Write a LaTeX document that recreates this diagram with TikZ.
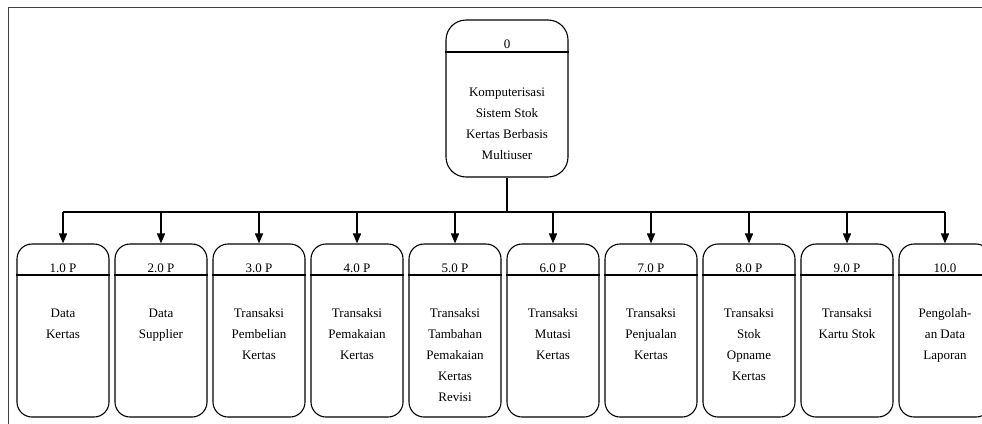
\documentclass[tikz,border=0pt]{standalone}
\usepackage{fontspec}
\setmainfont{Liberation Serif}
\usetikzlibrary{arrows.meta}
\begin{document}
\begin{tikzpicture}[x=1pt,y=-1pt,
  procbox/.style={draw, rounded corners=15pt, minimum width=92pt, minimum height=173pt, inner sep=0pt, line width=1.1pt},
  rootbox/.style={draw, rounded corners=20pt, minimum width=122pt, minimum height=157pt, inner sep=0pt, line width=1.1pt},
  divider/.style={line width=1.1pt},
  lbl/.style={font=\fontsize{13}{21}\selectfont, align=center, inner sep=0pt, anchor=base},
  link/.style={line width=1.3pt},
  arr/.style={line width=1.6pt, -{Triangle[length=10pt,width=8pt]}},
  frame/.style={line width=1.6pt, draw=black!75}]
\useasboundingbox (0,0) rectangle (982,423);
\clip (0,0) rectangle (982,423);

% page frame
\draw[frame] (8.5,430) -- (8.5,7.5) -- (990,7.5);

% context process (text node anchored at the baseline of its last line)
\node[rootbox] (root) at (507,98.5) {};
\draw[divider] (root.west |- 0,52) -- (root.east |- 0,52);
\node[lbl] (rootid) at (507,48.5) {0};
\node[lbl] (roottxt) at (507,159) {Komputerisasi\\Sistem Stok\\Kertas Berbasis\\Multiuser};

% level-1 processes: index / number of text lines / id / text
\foreach \i/\n/\id/\txt in {
  1/2/1.0 P/{Data\\Kertas},
  2/2/2.0 P/{Data\\Supplier},
  3/3/3.0 P/{Transaksi\\Pembelian\\Kertas},
  4/3/4.0 P/{Transaksi\\Pemakaian\\Kertas},
  5/5/5.0 P/{Transaksi\\Tambahan\\Pemakaian\\Kertas\\Revisi},
  6/3/6.0 P/{Transaksi\\Mutasi\\Kertas},
  7/3/7.0 P/{Transaksi\\Penjualan\\Kertas},
  8/4/8.0 P/{Transaksi\\Stok\\Opname\\Kertas},
  9/2/9.0 P/{Transaksi\\Kartu Stok},
  10/3/10.0/{Pengolah-\\an Data\\Laporan}}{
  \pgfmathsetmacro{\cx}{63+98*(\i-1)}
  \pgfmathsetmacro{\cy}{317+21*(\n-1)}
  \node[procbox] (p\i) at (\cx,330.5) {};
  \draw[divider] (p\i.west |- 0,275) -- (p\i.east |- 0,275);
  \node[lbl] (p\i id) at (\cx,272) {\id};
  \node[lbl] (p\i txt) at (\cx,\cy) {\txt};
}

% decomposition connectors
\coordinate (bus) at (507,212);
\draw[link] (root.south) -- (bus);
\draw[link] (p1.north |- bus) -- (p10.north |- bus);
\foreach \i in {1,...,10}{
  \draw[arr] (p\i.north |- bus) -- (p\i.north);
}
\end{tikzpicture}
\end{document}
